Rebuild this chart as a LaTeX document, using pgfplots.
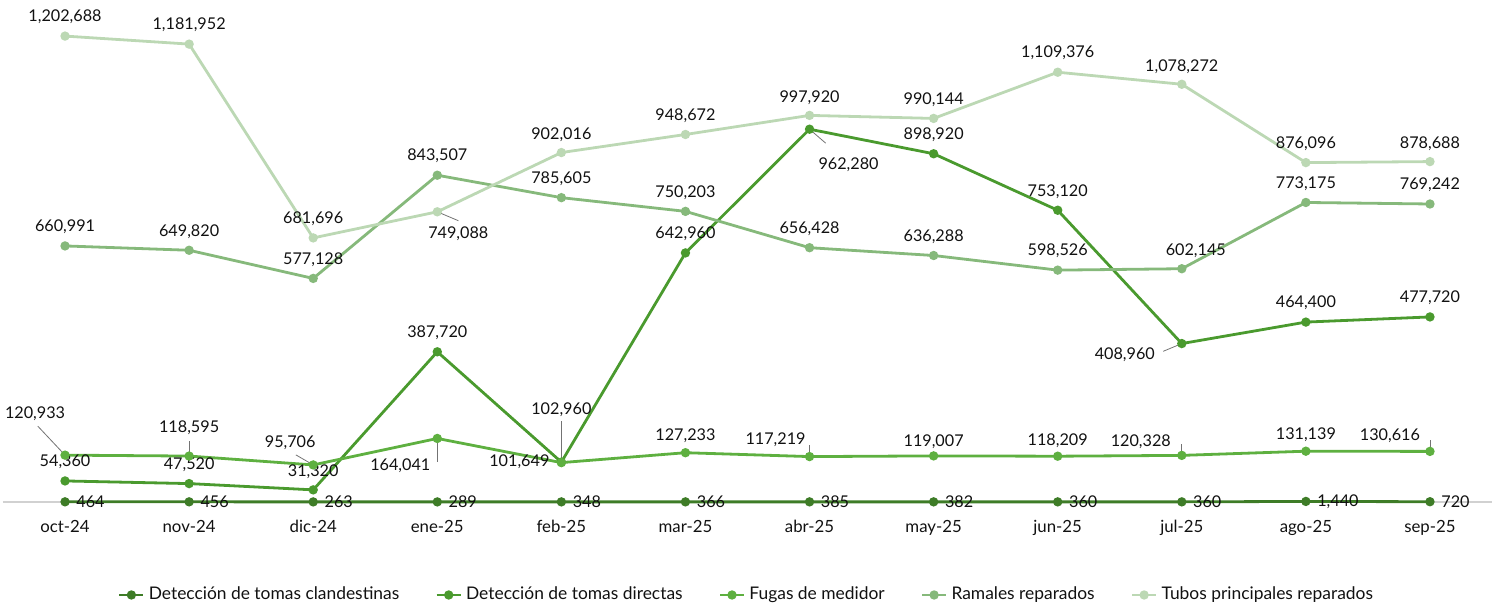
\documentclass[border=0pt]{standalone}
\usepackage{fontspec}
\setmainfont{Lato}
\usepackage{pgfplots}
\usepackage{pgfplotstable}
\pgfplotsset{compat=1.18}

\definecolor{cC}{HTML}{3E7C27}
\definecolor{cD}{HTML}{4A9A2E}
\definecolor{cF}{HTML}{5EB040}
\definecolor{cR}{HTML}{86B97B}
\definecolor{cT}{HTML}{BCD8B4}
\definecolor{txt}{HTML}{111111}

\pgfplotstableread{
x y dx dy lab
0 464 4 0 464
1 456 4 0 456
2 263 4 0 263
3 289 4 0 289
4 348 4 0 348
5 366 4 0 366
6 385 4 0 385
7 382 4 0 382
8 360 4 0 360
9 360 4 0 360
10 1440 4 0 1,440
11 720 4 0 720
}\tabC

\pgfplotstableread{
x y dx dy lab
0 54360 0 9.5 54,360
1 47520 0 9.5 47,520
2 31320 0 9 31,320
3 387720 0 9.5 387,720
4 102960 0 26 102,960
5 642960 0 9.5 642,960
6 962280 19.5 -18 962,280
7 898920 0 9.5 898,920
8 753120 0 9.5 753,120
9 408960 -28.5 -5.5 408,960
10 464400 0 9.5 464,400
11 477720 0 9.5 477,720
}\tabD

\pgfplotstableread{
x y dx dy lab
0 120933 -15 20.5 120,933
1 118595 0 14 118,595
2 95706 -11.5 11 95,706
3 164041 -18.5 -13.5 164,041
4 101649 -21 0.5 101,649
5 127233 0 8.5 127,233
6 117219 -17 8.5 117,219
7 119007 0 7 119,007
8 118209 0 7.5 118,209
9 120328 -20.5 7 120,328
10 131139 0 8 131,139
11 130616 -20 8 130,616
}\tabF

\pgfplotstableread{
x y dx dy lab
0 660991 0 9.5 660,991
1 649820 0 9.5 649,820
2 577128 0 9.5 577,128
3 843507 0 9.5 843,507
4 785605 0 9.5 785,605
5 750203 0 9.5 750,203
6 656428 0 9.5 656,428
7 636288 0 9.5 636,288
8 598526 0 9.5 598,526
9 602145 7 9 602,145
10 773175 0 9.5 773,175
11 769242 0 9.5 769,242
}\tabR

\pgfplotstableread{
x y dx dy lab
0 1202688 0 9.5 1,202,688
1 1181952 0 9.5 1,181,952
2 681696 0 9.5 681,696
3 749088 10.5 -11 749,088
4 902016 0 9 902,016
5 948672 0 9.5 948,672
6 997920 0 9 997,920
7 990144 0 9.5 990,144
8 1109376 0 9.5 1,109,376
9 1078272 0 9 1,078,272
10 876096 0 9.5 876,096
11 878688 0 9 878,688
}\tabT

\pgfplotstableread{
x y u v
3 749088 0.17 -23000
4 102960 0 105000
6 962280 0.13 -36000
9 408960 -0.15 -20000
0 120933 -0.22 75000
1 118595 0 40000
2 95706 -0.14 26000
3 164041 0 -60000
6 117219 0 30000
9 120328 0 30000
11 130616 0 30000
}\tabL

\pgfplotsset{
  lbl/.style={
    line width=1.4pt, mark=*, mark size=1.6pt,
    point meta=explicit symbolic,
    nodes near coords,
    visualization depends on={\thisrow{dx}\as\lx},
    visualization depends on={\thisrow{dy}\as\ly},
    every node near coord/.append style={font=\fontsize{8.1}{9.7}\selectfont, text=txt, anchor=center, xshift=\lx pt, yshift=\ly pt, inner sep=1pt},
  }
}

\begin{document}
\begin{tikzpicture}
\begin{axis}[
  name=ax,
  scale only axis,
  width=744.5pt, height=246pt,
  xmin=-0.5, xmax=11.5, ymin=0, ymax=1270000,
  clip=false,
  axis x line*=bottom,
  axis y line=none,
  x axis line style={draw=black!18, line width=0.8pt},
  xtick={0,...,11},
  xticklabels={oct-24,nov-24,dic-24,ene-25,feb-25,mar-25,abr-25,may-25,jun-25,jul-25,ago-25,sep-25},
  major tick length=0pt,
  ytick=\empty,
  xticklabel style={font=\fontsize{8.4}{10}\selectfont, text=txt, anchor=base, yshift=-15.5pt},
  legend style={at={(0.5,-0.189)}, anchor=center, draw=none, fill=none,
    font=\fontsize{8.7}{10.4}\selectfont, text=txt,
    /tikz/every even column/.append style={column sep=16pt},
    inner sep=0pt},
  legend columns=5,
  legend image code/.code={\draw[mark repeat=2,mark phase=2] plot coordinates {(0pt,0pt)(6pt,0pt)(12pt,0pt)};},
]
\addplot[forget plot, no marks, line width=0.4pt, black!55,
  quiver={u=\thisrow{u}, v=\thisrow{v}, every arrow/.append style={-}}]
  table[x=x,y=y] {\tabL};
\addplot[cC, lbl, every node near coord/.append style={anchor=west}] table[x=x,y=y,meta=lab] {\tabC};
\addlegendentry{Detección de tomas clandestinas}
\addplot[cD, lbl] table[x=x,y=y,meta=lab] {\tabD};
\addlegendentry{Detección de tomas directas}
\addplot[cF, lbl] table[x=x,y=y,meta=lab] {\tabF};
\addlegendentry{Fugas de medidor}
\addplot[cR, lbl] table[x=x,y=y,meta=lab] {\tabR};
\addlegendentry{Ramales reparados}
\addplot[cT, lbl] table[x=x,y=y,meta=lab] {\tabT};
\addlegendentry{Tubos principales reparados}
\end{axis}
\pgfresetboundingbox
\path ([xshift=-1.5pt,yshift=-51.5pt]ax.south west) rectangle ([xshift=1.5pt,yshift=5pt]ax.north east);
\end{tikzpicture}
\end{document}
